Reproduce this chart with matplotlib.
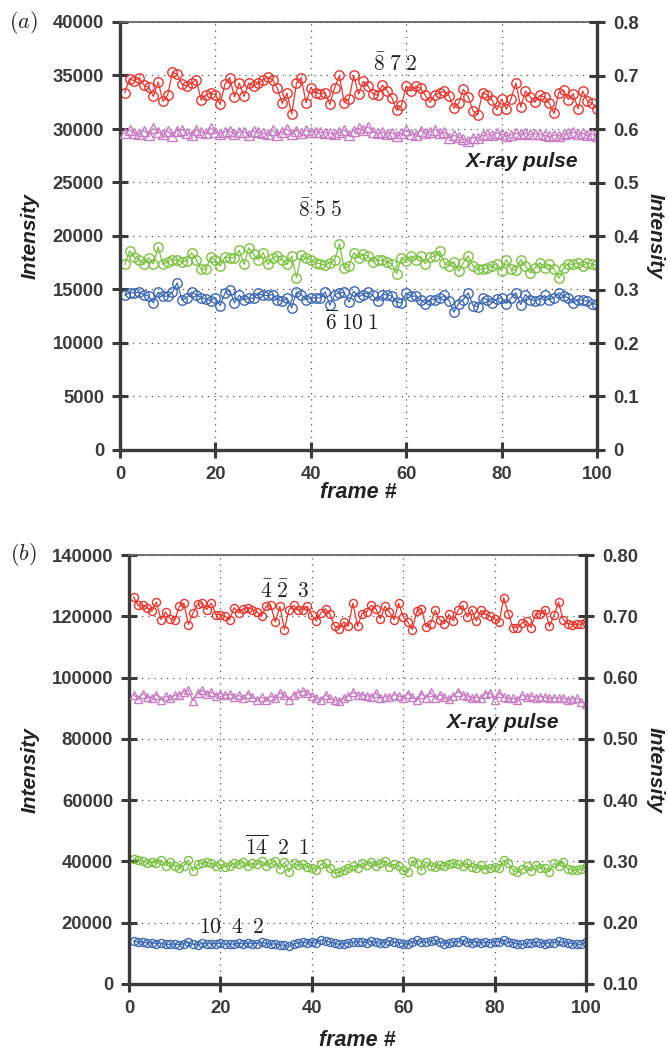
import numpy as np
import matplotlib
matplotlib.use("Agg")
import matplotlib.pyplot as plt

plt.rcParams['font.family'] = ['Liberation Sans', 'DejaVu Sans']
plt.rcParams['mathtext.fontset'] = 'cm'

# ---- panel (a) data (frame 1..100) ----
red_a = [33400, 34700, 34500, 34800, 34100, 33900, 33050, 34400, 32600, 33200,
         35300, 35100, 34200, 34000, 34300, 34600, 32700, 33200, 33350, 33200,
         32300, 34200, 34800, 33000, 34300, 33050, 34300, 34000, 34300, 34600,
         34850, 34600, 33800, 32400, 33350, 31400, 34300, 34800, 32450, 33850,
         33400, 33300, 33400, 32300, 33850, 35000, 32450, 32800, 35000, 33250,
         34450, 34000, 33300, 33150, 34100, 33550, 32900, 31750, 32200, 34000,
         33550, 34000, 33800, 33150, 32500, 33200, 33350, 33550, 33100, 31950,
         32400, 33700, 33000, 31700, 31350, 33400, 33200, 32700, 31800, 32800,
         31850, 32850, 34300, 32050, 33550, 33000, 32500, 33150, 33000, 32400,
         31450, 33400, 33600, 32750, 33300, 31900, 33550, 32600, 32400, 31900]

green_a = [17340, 18600, 18030, 17800, 17340, 17970, 17400, 18970, 17340, 17600,
           17800, 17720, 17600, 17660, 18440, 17800, 16880, 16880, 18030, 17720,
           17190, 18030, 17970, 17970, 18660, 17340, 18900, 18280, 17800, 18440,
           17340, 17970, 18130, 17800, 17340, 18130, 16100, 18190, 17970, 17800,
           17500, 17400, 17280, 17500, 17720, 19280, 16970, 17190, 18440, 17970,
           18280, 18130, 17600, 17720, 17720, 17600, 17400, 16470, 17970, 17660,
           18130, 17800, 18130, 17400, 18030, 18130, 18600, 17500, 17190, 17600,
           16720, 17500, 18130, 17190, 16940, 16880, 17030, 17190, 17400, 16720,
           17800, 16880, 16780, 17800, 17190, 16560, 17030, 17500, 17030, 17340,
           16940, 16030, 17030, 17400, 17340, 17500, 17190, 17500, 17340, 17280]

blue_a = [14470, 14690, 14690, 14750, 14530, 14380, 13750, 14750, 14380, 14380,
          14750, 15620, 14000, 14220, 14750, 14530, 14220, 14120, 13970, 14220,
          13500, 14690, 14940, 13750, 14470, 14000, 14220, 14160, 14690, 14440,
          14440, 14530, 14060, 13900, 14220, 13280, 14750, 14530, 14060, 14220,
          14220, 14220, 14780, 13530, 14530, 14690, 14750, 13810, 14840, 14310,
          14530, 14750, 14440, 13900, 14530, 14530, 14380, 13810, 13750, 14690,
          14380, 14380, 14060, 13690, 14060, 14060, 14160, 14440, 13970, 12880,
          13690, 14060, 14690, 13500, 13380, 14220, 14060, 13750, 14120, 14220,
          13690, 14220, 14690, 13590, 14530, 14060, 13970, 14060, 14440, 14060,
          14220, 14690, 14380, 14220, 13750, 14060, 14000, 13900, 13690, 13590]

pulse_a = [0.592, 0.598, 0.593, 0.591, 0.597, 0.589, 0.601, 0.595, 0.590, 0.596,
           0.587, 0.597, 0.599, 0.593, 0.589, 0.598, 0.595, 0.592, 0.602, 0.595,
           0.591, 0.595, 0.596, 0.591, 0.594, 0.595, 0.589, 0.596, 0.594, 0.592,
           0.591, 0.598, 0.589, 0.595, 0.600, 0.591, 0.597, 0.592, 0.598, 0.595,
           0.595, 0.594, 0.593, 0.592, 0.591, 0.594, 0.598, 0.589, 0.597, 0.601,
           0.599, 0.604, 0.595, 0.592, 0.594, 0.591, 0.593, 0.587, 0.592, 0.598,
           0.591, 0.589, 0.597, 0.592, 0.595, 0.599, 0.593, 0.595, 0.583, 0.588,
           0.585, 0.581, 0.578, 0.584, 0.583, 0.588, 0.590, 0.588, 0.593, 0.590,
           0.587, 0.589, 0.592, 0.590, 0.592, 0.590, 0.591, 0.590, 0.588, 0.586,
           0.589, 0.587, 0.590, 0.592, 0.594, 0.590, 0.592, 0.588, 0.590, 0.586]

# ---- panel (b) data ----
red_b = [126270, 123570, 123570, 122810, 121730, 124650, 118920, 121400, 119240, 118700,
         123240, 124320, 117300, 121080, 123890, 124320, 122160, 124320, 120540, 120540,
         120000, 118920, 122810, 121080, 122490, 122810, 122160, 121400, 120000, 123240,
         123570, 118160, 123240, 115680, 122160, 123570, 121950, 122160, 123240, 120320,
         118490, 121080, 122490, 120650, 116760, 116000, 118160, 116760, 124320, 116760,
         120860, 121400, 123570, 122490, 119240, 123240, 121400, 118920, 124320, 119780,
         118160, 115680, 121730, 122490, 116540, 117620, 121950, 118920, 117620, 120650,
         118490, 121950, 123570, 119780, 122160, 118490, 121950, 120650, 120000, 119240,
         118160, 126050, 120860, 116320, 116320, 117840, 118490, 116320, 120860, 120650,
         122160, 116760, 120320, 124650, 118920, 117620, 117300, 117400, 117400, 118160]

green_b = [40760, 40430, 40110, 39350, 39890, 39350, 40430, 38590, 39890, 38590,
           37950, 38590, 40430, 36860, 39030, 39350, 39680, 39350, 38590, 39030,
           38270, 38590, 39350, 39030, 39890, 38590, 39350, 39030, 40110, 38590,
           39350, 40110, 37510, 39680, 36650, 39350, 38810, 39030, 38270, 37950,
           37190, 39030, 39350, 37730, 36110, 36430, 37190, 37730, 38590, 37950,
           39350, 38810, 39890, 38590, 39350, 40110, 38270, 39030, 38590, 37190,
           36430, 40110, 39350, 37190, 39890, 38590, 38270, 38810, 38590, 39030,
           39350, 39030, 38590, 39350, 38270, 37730, 38810, 37510, 37950, 38270,
           37730, 40430, 39350, 37190, 36430, 37510, 38590, 36860, 38810, 37730,
           37950, 36650, 39350, 38590, 39890, 37510, 37190, 37190, 37510, 38270]

blue_b = [14000, 13700, 13600, 13400, 13500, 13200, 13300, 13000, 12900, 13100,
          12800, 13200, 13600, 13000, 12700, 13300, 13200, 13100, 13200, 13300,
          13000, 13100, 13000, 13300, 13100, 13400, 13200, 13200, 13600, 13300,
          13000, 13100, 12800, 12600, 12300, 13000, 13400, 13600, 13400, 13600,
          13300, 14400, 14000, 13600, 13300, 12900, 13200, 13400, 13600, 13800,
          13700, 13500, 13900, 13600, 13300, 13500, 14000, 13600, 13500, 13200,
          12900, 13700, 14200, 13700, 13600, 13900, 14300, 13600, 13200, 13400,
          13600, 13800, 14200, 13700, 13500, 13800, 13300, 13600, 13500, 13700,
          13800, 14300, 13700, 13500, 13000, 12900, 13300, 13400, 13600, 13500,
          13200, 13400, 13500, 13900, 13600, 13400, 13200, 13000, 12900, 13700]

pulse_b = [0.572, 0.565, 0.574, 0.569, 0.567, 0.572, 0.564, 0.570, 0.566, 0.571,
           0.572, 0.577, 0.579, 0.562, 0.575, 0.579, 0.574, 0.576, 0.570, 0.574,
           0.571, 0.573, 0.569, 0.571, 0.566, 0.574, 0.568, 0.564, 0.568, 0.564,
           0.570, 0.566, 0.575, 0.571, 0.564, 0.572, 0.575, 0.578, 0.575, 0.570,
           0.567, 0.563, 0.572, 0.566, 0.563, 0.562, 0.567, 0.570, 0.576, 0.571,
           0.572, 0.570, 0.569, 0.575, 0.566, 0.569, 0.568, 0.572, 0.570, 0.567,
           0.574, 0.568, 0.563, 0.574, 0.567, 0.576, 0.566, 0.572, 0.568, 0.565,
           0.570, 0.577, 0.572, 0.570, 0.567, 0.568, 0.566, 0.574, 0.575, 0.564,
           0.575, 0.568, 0.566, 0.566, 0.563, 0.571, 0.569, 0.570, 0.567, 0.569,
           0.568, 0.566, 0.567, 0.566, 0.567, 0.564, 0.565, 0.566, 0.560, 0.557]

RED = '#e8362f'
GREEN = '#7cc242'
BLUE = '#3d68b4'
PINK = '#c97cc4'
DARK = '#3a3a3a'

W, H = 668, 1052
fig = plt.figure(figsize=(W / 100, H / 100), dpi=100)


def px(x0, y0, x1, y1):
    return [x0 / W, 1 - y1 / H, (x1 - x0) / W, (y1 - y0) / H]


def style(ax, ax2, ymax, yticks, rlim, rticks, rfmt):
    ax.set_xlim(0, 100)
    ax.set_ylim(0, ymax)
    ax.set_xticks(range(0, 101, 20))
    ax.set_yticks(yticks)
    ax.grid(True, which='major', color='#555555', linestyle=(0, (1, 4)), linewidth=0.9)
    for s in ['left', 'bottom']:
        ax.spines[s].set_linewidth(2.4)
        ax.spines[s].set_color(DARK)
    ax.spines['top'].set_linewidth(1.3)
    ax.spines['top'].set_color('#666666')
    ax.spines['right'].set_visible(False)
    ax.tick_params(axis='both', direction='inout', length=11, width=2.2, color=DARK,
                   labelsize=13.3, labelcolor=DARK, pad=6)
    for lab in ax.get_xticklabels() + ax.get_yticklabels():
        lab.set_fontweight('bold')
    ax2.set_ylim(*rlim)
    ax2.set_yticks(rticks)
    ax2.set_yticklabels([rfmt.format(t) if t != 0 else '0' for t in rticks])
    for s in ['left', 'bottom', 'top']:
        ax2.spines[s].set_visible(False)
    ax2.spines['right'].set_linewidth(2.4)
    ax2.spines['right'].set_color(DARK)
    ax2.tick_params(axis='y', direction='inout', length=11, width=2.2, color=DARK,
                    labelsize=13.3, labelcolor=DARK, pad=6)
    for lab in ax2.get_yticklabels():
        lab.set_fontweight('bold')


def series(ax, vals, color, marker, ms):
    fr = np.arange(1, len(vals) + 1)
    ax.plot(fr, vals, '-', color=color, lw=0.9, marker=marker, ms=ms,
            mfc='none', mec=color, mew=1.0)


lab_kw = dict(fontsize=15, fontweight='bold', fontstyle='italic', color='#222222')
mkw = dict(fontsize=15.5, color='#222222', ha='center', va='center')

# ---------------- (a) ----------------
ax = fig.add_axes(px(120, 22, 597, 450))
ax2 = ax.twinx()
series(ax, red_a, RED, 'o', 6.8)
series(ax, green_a, GREEN, 'o', 6.8)
series(ax, blue_a, BLUE, 'o', 6.8)
series(ax2, pulse_a, PINK, '^', 6.8)
style(ax, ax2, 40000, range(0, 40001, 5000), (0, 0.8),
      [0, 0.1, 0.2, 0.3, 0.4, 0.5, 0.6, 0.7, 0.8], '{:.1f}')
ax.text(57.7, 36000, r'$\bar{8}\;7\;2$', **mkw)
ax.text(42, 22400, r'$\bar{8}\;5\;5$', **mkw)
ax.text(48.6, 11900, r'$\overline{6}\;10\;1$', **mkw)
ax.text(84.3, 27000, 'X-ray pulse', ha='center', va='center', **lab_kw)

fig.text(30 / W, 1 - 236 / H, 'Intensity', rotation=90, ha='center', va='center', **lab_kw)
fig.text(655 / W, 1 - 236 / H, 'Intensity', rotation=270, ha='center', va='center', **lab_kw)
fig.text(358 / W, 1 - 492 / H, 'frame #', ha='center', va='center',
         **dict(lab_kw, fontsize=15.5))
fig.text(23 / W, 1 - 22 / H, r'$(a)$', ha='center', va='center', fontsize=16, color='#222222')

# ---------------- (b) ----------------
bx = fig.add_axes(px(129, 555, 586, 984))
bx2 = bx.twinx()
series(bx, red_b, RED, 'o', 5.8)
series(bx, green_b, GREEN, 'o', 5.8)
series(bx, blue_b, BLUE, 'o', 5.8)
series(bx2, pulse_b, PINK, '^', 5.8)
style(bx, bx2, 140000, range(0, 140001, 20000), (0.1, 0.8),
      [0.1, 0.2, 0.3, 0.4, 0.5, 0.6, 0.7, 0.8], '{:.2f}')
bx.text(34.1, 127900, r'$\bar{4}\;\bar{2}\;\;3$', **mkw)
bx.text(32.4, 44400, r'$\overline{14}\;\;2\;\;1$', **mkw)
bx.text(22.5, 18300, r'$10\;\;4\;\;2$', **mkw)
bx.text(81.8, 85500, 'X-ray pulse', ha='center', va='center', **lab_kw)

fig.text(30 / W, 1 - 770 / H, 'Intensity', rotation=90, ha='center', va='center', **lab_kw)
fig.text(655 / W, 1 - 770 / H, 'Intensity', rotation=270, ha='center', va='center', **lab_kw)
fig.text(357 / W, 1 - 1040 / H, 'frame #', ha='center', va='center',
         **dict(lab_kw, fontsize=15.5))
fig.text(23 / W, 1 - 555 / H, r'$(b)$', ha='center', va='center', fontsize=16, color='#222222')

fig.savefig('out.png', dpi=100)
